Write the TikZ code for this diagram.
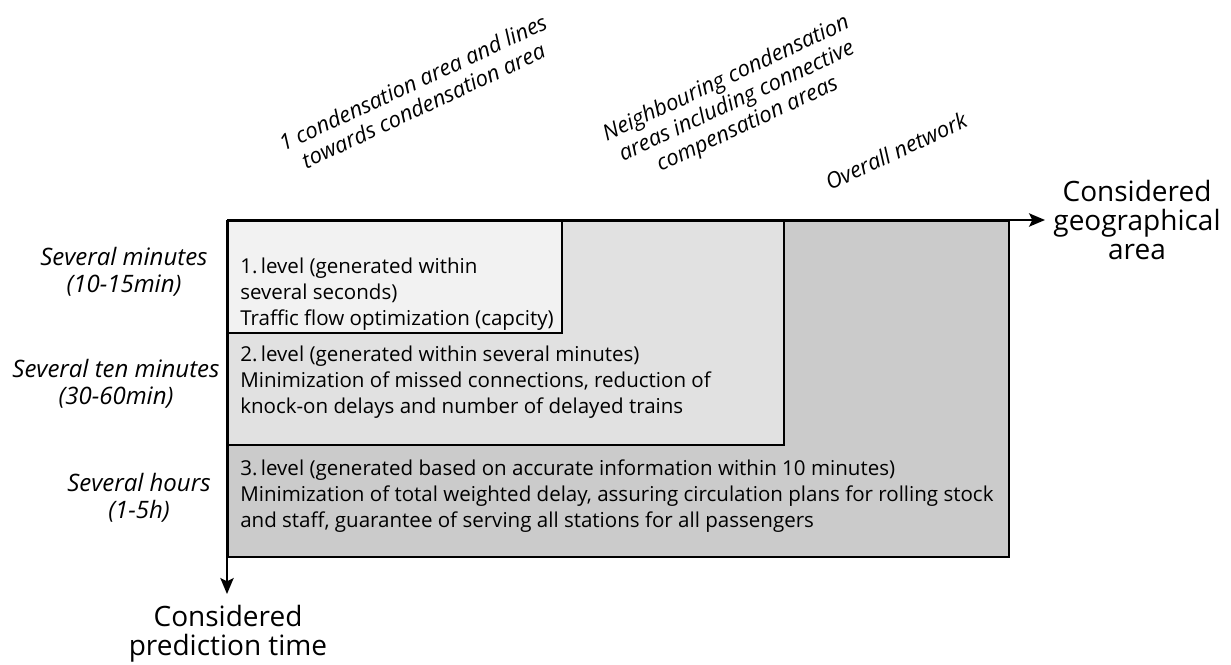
\documentclass[tikz,border=0pt]{standalone}
\usepackage{fontspec}
\setmainfont{Open Sans}
\usetikzlibrary{arrows.meta}
\definecolor{gone}{HTML}{F2F2F2}
\definecolor{gtwo}{HTML}{E1E1E1}
\definecolor{gthree}{HTML}{CBCBCB}
\tikzset{
  levelbox/.style={draw=black, line width=1.5pt, anchor=north west, inner sep=0pt},
  boxtext/.style={anchor=north west, align=left, inner sep=0pt, font=\fontsize{15.4}{19.5}\selectfont},
  timelabel/.style={align=center, inner sep=0pt, font=\fontsize{18}{20.3}\selectfont\itshape},
  arealabel/.style={align=center, inner sep=0pt, rotate=25, font=\fontsize{16.5}{18.8}\selectfont\itshape},
  axislabel/.style={align=center, inner sep=0pt, font=\fontsize{21}{21.5}\selectfont},
  axis/.style={line width=1.5pt, -{Stealth[length=12pt,width=10pt,inset=2.5pt]}}
}
\begin{document}
\begin{tikzpicture}[x=0.75pt,y=-0.75pt]
\useasboundingbox (0,0) rectangle (1231,664);
% boxes
\node[levelbox, fill=gthree, minimum width=585.75pt, minimum height=252pt] (b3) at (227,220) {};
\node[levelbox, fill=gtwo, minimum width=417pt, minimum height=168pt] (b2) at (227,220) {};
\node[levelbox, fill=gone, minimum width=250.5pt, minimum height=84pt] (b1) at (227,220) {};
% box texts
\node[boxtext] (t1) at (240,258) {1.\,level (generated within\\several seconds)\\Traffic flow optimization (capcity)};
\node[boxtext] (t2) at (240,346) {2.\,level (generated within several minutes)\\Minimization of missed connections, reduction of\\knock-on delays and number of delayed trains};
\node[boxtext] (t3) at (240,460) {3.\,level (generated based on accurate information within 10 minutes)\\Minimization of total weighted delay, assuring circulation plans for rolling stock\\and staff, guarantee of serving all stations for all passengers};
% axes
\coordinate (o) at (227,220);
\coordinate (xend) at (1045,220);
\coordinate (yend) at (227,594);
\draw[axis] (o) -- (xend);
\draw[axis] (o) -- (yend);
% axis labels
\node[axislabel] (xl) at (1137,220) {Considered\\geographical\\area};
\node[axislabel] (yl) at (228,634) {Considered\\prediction time};
% time labels
\node[timelabel] (l1) at (124,272) {Several minutes\\(10-15min)};
\node[timelabel] (l2) at (116,384) {Several ten minutes\\(30-60min)};
\node[timelabel] (l3) at (139,498) {Several hours\\(1-5h)};
% area labels
\node[arealabel] (a1) at (418,94) {1 condensation area and lines\\towards condensation area};
\node[arealabel] (a2) at (737,102) {Neighbouring condensation\\areas including connective\\compensation areas};
\node[arealabel] (a3) at (896,151) {Overall network};
\end{tikzpicture}
\end{document}
